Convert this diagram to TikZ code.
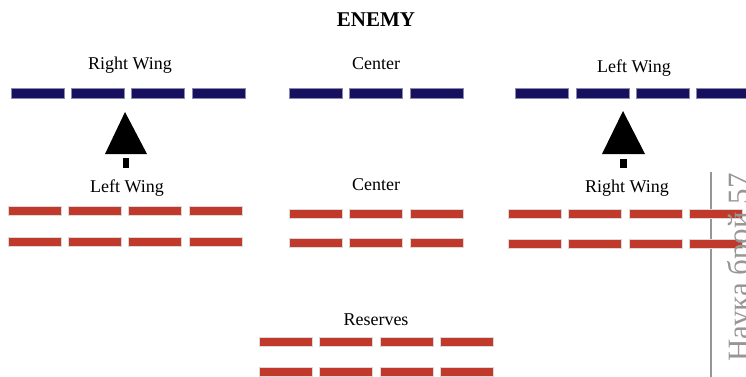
\documentclass[tikz,border=0pt]{standalone}
\usepackage{fontspec}
\setmainfont{Liberation Serif}
\definecolor{enemyblue}{RGB}{22,16,94}
\definecolor{ownred}{RGB}{192,57,43}
\definecolor{linegray}{RGB}{150,150,150}
\begin{document}
\begin{tikzpicture}[x=1pt,y=-1pt,
  blueblk/.style={rectangle,fill=enemyblue,draw=enemyblue!50!white,line width=0.4pt,minimum width=53pt,minimum height=9.5pt,inner sep=0pt},
  redblk/.style={rectangle,fill=ownred,draw=black!15,line width=0.6pt,minimum width=53pt,minimum height=9pt,inner sep=0pt},
  lbl/.style={anchor=base,inner sep=0pt,font=\fontsize{18}{21}\selectfont},
  arrowhead/.style={fill=black},
]
\useasboundingbox (0,0) rectangle (746,377);
% title
\node[lbl,font=\bfseries\fontsize{21}{24}\selectfont] (enemy) at (376,27) {ENEMY};
% enemy labels
\node[lbl] (eRW) at (130,70) {Right Wing};
\node[lbl] (eC) at (376,70) {Center};
\node[lbl] (eLW) at (634,73) {Left Wing};
% enemy blocks
\foreach \x [count=\i] in {37.5,97.5,158,218.5} \node[blueblk] (eL\i) at (\x,93) {};
\foreach \x [count=\i] in {316,376,436.5} \node[blueblk] (eM\i) at (\x,93) {};
\foreach \x [count=\i] in {542,602.5,662.5,722.5} \node[blueblk] (eR\i) at (\x,93) {};
% own labels
\node[lbl] (oLW) at (127,192) {Left Wing};
\node[lbl] (oC) at (376,190) {Center};
\node[lbl] (oRW) at (627,192) {Right Wing};
\node[lbl] (oRes) at (376,325) {Reserves};
% own blocks
\foreach \x [count=\i] in {34.5,94.5,154.5,215.5} {
  \node[redblk] (oLa\i) at (\x,211) {};
  \node[redblk] (oLb\i) at (\x,241.5) {};
}
\foreach \x [count=\i] in {316,376,436.5} {
  \node[redblk] (oMa\i) at (\x,213.5) {};
  \node[redblk] (oMb\i) at (\x,243) {};
}
% gray margin line
\coordinate (gTop) at (711,172);
\coordinate (gBot) at (711,377);
\draw[linegray,line width=1.6pt] (gTop) -- (gBot);
\foreach \x [count=\i] in {534.5,594.5,655.5,715.5} {
  \node[redblk] (oRa\i) at (\x,213.5) {};
  \node[redblk] (oRb\i) at (\x,244) {};
}
\foreach \x [count=\i] in {285.5,346,406.5,466.5} {
  \node[redblk] (rsa\i) at (\x,342) {};
  \node[redblk] (rsb\i) at (\x,372) {};
}
% advance arrows
\coordinate (aLtip) at (125,112);
\coordinate (aLl) at (105,154);
\coordinate (aLr) at (147,154);
\fill[arrowhead] (aLtip) -- (aLr) -- (aLl) -- cycle;
\fill[arrowhead] (123,158) rectangle (129,168);
\coordinate (aRtip) at (623,111);
\coordinate (aRl) at (602,154);
\coordinate (aRr) at (645,154);
\fill[arrowhead] (aRtip) -- (aRr) -- (aRl) -- cycle;
\fill[arrowhead] (620,159) rectangle (627,168);
% page margin text
\node[rotate=90,anchor=base east,inner sep=0pt,text=linegray,font=\fontsize{31}{34}\selectfont] (margin) at (749,173) {Наука брой 57};
\end{tikzpicture}
\end{document}
